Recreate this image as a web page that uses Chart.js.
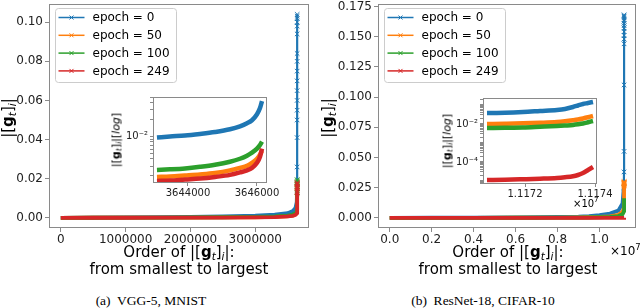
<!DOCTYPE html>
<html><head><meta charset="utf-8">
<script src="https://cdn.jsdelivr.net/npm/chart.js@4.4.1/dist/chart.umd.min.js"></script>
<style>
html,body{margin:0;padding:0;background:#fff;}
#fig{position:relative;width:640px;height:308px;overflow:hidden;font-family:"DejaVu Sans",sans-serif;color:#000;}
canvas{position:absolute;}
.t{position:absolute;white-space:nowrap;line-height:1;}
.yt{font-size:15px;transform:translate(-50%,-50%) rotate(-90deg);}
.yti{font-size:11px;transform:translate(-50%,-50%) rotate(-90deg);}
.xt{font-size:15px;transform:translate(-50%,-50%);}
.s{font-size:0.7em;font-style:italic;position:relative;top:0.3em;}
.cap{font-family:"Liberation Serif",serif;font-size:13.5px;transform:translate(-50%,-50%);}
.off{font-size:12px;transform:translateY(-50%);}
.offi{font-size:10px;transform:translateY(-50%);}
</style></head>
<body><div id="fig">
<canvas id="mainA" width="320" height="244" style="left:0;top:0;width:320px;height:244px"></canvas>
<canvas id="mainB" width="320" height="244" style="left:320px;top:0;width:320px;height:244px"></canvas>
<canvas id="insA" width="200" height="112" style="left:95px;top:88px;width:200px;height:112px"></canvas>
<canvas id="insB" width="200" height="112" style="left:425px;top:88px;width:200px;height:112px"></canvas>

<div class="t yt" style="left:8px;top:118px">|[<b>g</b><span class="s">t</span>]<span class="s">i</span>|</div>
<div class="t yt" style="left:328px;top:118px">|[<b>g</b><span class="s">t</span>]<span class="s">i</span>|</div>
<div class="t yti" style="left:116px;top:140px">|[<b>g</b><span class="s">t</span>]<span class="s">i</span>|[<i>log</i>]</div>
<div class="t yti" style="left:447px;top:141px">|[<b>g</b><span class="s">t</span>]<span class="s">i</span>|[<i>log</i>]</div>

<div class="t xt" style="left:179px;top:252px">Order of |[<b>g</b><span class="s">t</span>]<span class="s">i</span>|:</div>
<div class="t xt" style="left:179px;top:269px">from smallest to largest</div>
<div class="t xt" style="left:508px;top:252px">Order of |[<b>g</b><span class="s">t</span>]<span class="s">i</span>|:</div>
<div class="t xt" style="left:508px;top:269px">from smallest to largest</div>

<div class="t off" style="left:610px;top:250px">×10<sup style="font-size:0.7em">7</sup></div>
<div class="t offi" style="left:573px;top:203px">×10<sup style="font-size:0.7em">7</sup></div>

<div class="t cap" style="left:151px;top:301px">(a)&nbsp; VGG-5, MNIST</div>
<div class="t cap" style="left:483px;top:301px">(b)&nbsp; ResNet-18, CIFAR-10</div>
</div>
<script>
// ---------- data ----------
const seriesNames = ['epoch = 0', 'epoch = 50', 'epoch = 100', 'epoch = 249'];
const seriesColors = ['#1f77b4', '#ff7f0e', '#2ca02c', '#d62728'];

// (a) VGG-5, MNIST : main panel
const vggOrder = [0, 500000, 1000000, 1500000, 2000000, 2500000, 3000000, 3300000, 3500000, 3580000, 3620000, 3640000, 3645000, 3646000, 3646100, 3646300, 3646400, 3646500, 3646550, 3646600, 3646650, 3646700, 3646750, 3646800, 3646850, 3646900, 3646940, 3646970, 3647000];
const vggEpoch0   = [0, 0.0001, 0.0002, 0.0003, 0.0005, 0.0007, 0.0011, 0.0016, 0.0024, 0.0035, 0.005, 0.008, 0.014, 0.026, 0.041, 0.05, 0.055, 0.06, 0.065, 0.07, 0.075, 0.08, 0.084, 0.094, 0.098, 0.1, 0.102, 0.103, 0.104];
const vggEpoch50  = [0, 0.00003, 0.00006, 0.0001, 0.00015, 0.0002, 0.0003, 0.0005, 0.0008, 0.0012, 0.0017, 0.0025, 0.0032, 0.0045, 0.0056, 0.007, 0.008, 0.009, 0.010, 0.011, 0.012, 0.013, 0.014, 0.015, 0.0155, 0.016, 0.0165, 0.017, 0.0175];
const vggEpoch100 = [0, 0.00005, 0.0001, 0.00015, 0.0002, 0.0003, 0.0005, 0.0007, 0.0011, 0.0017, 0.0024, 0.0035, 0.0046, 0.0065, 0.0082, 0.0095, 0.0105, 0.0115, 0.0125, 0.013, 0.014, 0.015, 0.016, 0.017, 0.0175, 0.018, 0.0185, 0.019, 0.0195];
const vggEpoch249 = [0, 0.00003, 0.00005, 0.00008, 0.0001, 0.00015, 0.00025, 0.0004, 0.0007, 0.001, 0.0015, 0.0021, 0.0028, 0.004, 0.0061, 0.007, 0.008, 0.009, 0.010, 0.011, 0.012, 0.013, 0.014, 0.015, 0.0155, 0.016, 0.017, 0.0175, 0.018];
const vggXTicks = [0, 1000000, 2000000, 3000000];
const vggXLabels = ['0', '1000000', '2000000', '3000000'];
const vggYTicks = [0, 0.02, 0.04, 0.06, 0.08, 0.10];
const vggYLabels = ['0.00', '0.02', '0.04', '0.06', '0.08', '0.10'];

// (a) inset (log scale)
const vggInsetOrder = [3643101, 3643478, 3643913, 3644348, 3644783, 3645217, 3645507, 3645710, 3645855, 3646000, 3646087, 3646145];
const vggInset0   = [0.0096, 0.0100, 0.0104, 0.0111, 0.0120, 0.0134, 0.0151, 0.0171, 0.0194, 0.0248, 0.0318, 0.0424];
const vggInset50  = [0.00192, 0.00196, 0.00204, 0.00213, 0.00226, 0.00251, 0.00278, 0.00302, 0.00342, 0.00403, 0.00476, 0.00561];
const vggInset100 = [0.00256, 0.00262, 0.00272, 0.00290, 0.00315, 0.00356, 0.00403, 0.00457, 0.00517, 0.00610, 0.00704, 0.00813];
const vggInset249 = [0.00163, 0.00166, 0.00173, 0.00180, 0.00192, 0.00209, 0.00231, 0.00251, 0.00278, 0.00342, 0.00438, 0.00610];
const vggInsetXTicks = [3644000, 3646000];
const vggInsetXLabels = ['3644000', '3646000'];
const vggInsetYTicks = [0.01];
const vggInsetYLabels = ['10\u207B\u00B2'];

// (b) ResNet-18, CIFAR-10 : main panel
const resOrder = [0, 2000000, 4000000, 6000000, 7000000, 8000000, 9000000, 9500000, 10000000, 10500000, 10900000, 11100000, 11160000, 11171000, 11172900, 11173650, 11173940, 11173950, 11173955, 11173960, 11173965, 11173970, 11173975, 11173980, 11173985, 11173990, 11173995, 11174000];
const resEpoch0   = [0, 0.0001, 0.0002, 0.0004, 0.0005, 0.0007, 0.0010, 0.0014, 0.0022, 0.0035, 0.006, 0.012, 0.025, 0.038, 0.055, 0.11, 0.144, 0.148, 0.151, 0.154, 0.157, 0.159, 0.161, 0.163, 0.164, 0.166, 0.167, 0.168];
const resEpoch50  = [0, 0.00003, 0.00006, 0.0001, 0.00015, 0.0002, 0.0003, 0.0005, 0.0008, 0.0013, 0.0025, 0.005, 0.008, 0.010, 0.0127, 0.020, 0.0264, 0.027, 0.0275, 0.028, 0.0283, 0.0286, 0.0288, 0.029, 0.0292, 0.0294, 0.0296, 0.030];
const resEpoch100 = [0, 0.00002, 0.00004, 0.00007, 0.0001, 0.00015, 0.0002, 0.0003, 0.0005, 0.0008, 0.0015, 0.003, 0.005, 0.0062, 0.0078, 0.0106, 0.0144, 0.0148, 0.015, 0.0152, 0.0154, 0.0156, 0.0157, 0.0158, 0.0159, 0.016, 0.0161, 0.0162];
const resEpoch249 = [0, 0.000002, 0.000003, 0.000004, 0.000005, 0.000006, 0.000007, 0.000008, 0.000009, 0.00001, 0.000011, 0.0000112, 0.0000113, 0.0000113, 0.0000145, 0.000026, 0.000054, 0.00006, 0.000065, 0.00007, 0.000075, 0.00008, 0.000085, 0.00009, 0.000095, 0.0001, 0.00011, 0.00012];
const resXTicks = [0, 2000000, 4000000, 6000000, 8000000, 10000000];
const resXLabels = ['0.0', '0.2', '0.4', '0.6', '0.8', '1.0'];
const resYTicks = [0, 0.025, 0.05, 0.075, 0.1, 0.125, 0.15, 0.175];
const resYLabels = ['0.000', '0.025', '0.050', '0.075', '0.100', '0.125', '0.150', '0.175'];

// (b) inset (log scale)
const resInsetOrder = [11170914, 11171429, 11171943, 11172429, 11172914, 11173143, 11173371, 11173514, 11173657, 11173800, 11173943];
const resInset0   = [0.0379, 0.0393, 0.0428, 0.0483, 0.0546, 0.0616, 0.0785, 0.0941, 0.113, 0.127, 0.144];
const resInset50  = [0.0100, 0.0104, 0.0109, 0.0116, 0.0127, 0.0139, 0.0157, 0.0172, 0.0195, 0.0225, 0.0264];
const resInset100 = [0.0062, 0.0063, 0.0065, 0.0071, 0.0078, 0.0083, 0.0089, 0.0096, 0.0106, 0.0123, 0.0144];
const resInset249 = [0.0000113, 0.0000117, 0.0000124, 0.0000132, 0.0000144, 0.0000157, 0.0000177, 0.0000207, 0.0000264, 0.0000379, 0.0000546];
const resInsetXTicks = [11172000, 11174000];
const resInsetXLabels = ['1.1172', '1.1174'];
const resInsetYTicks = [0.0001, 0.01];
const resInsetYLabels = ['10\u207B\u2074', '10\u207B\u00B2'];

// ---------- helpers ----------
Chart.defaults.font.family = '"DejaVu Sans", sans-serif';
Chart.defaults.color = '#222';
const SPINE = '#8a8a8a';

function pts(xs, ys) { return xs.map((x, i) => ({x: x, y: ys[i]})); }

const framePlugin = {
  id: 'frame',
  beforeDraw(chart, args, opts) {
    if (opts && opts.fill) {
      const a = chart.chartArea, c = chart.ctx;
      c.save(); c.fillStyle = '#fff';
      c.fillRect(a.left, a.top, a.right - a.left, a.bottom - a.top);
      c.restore();
    }
  },
  afterDatasetsDraw(chart) {
    const a = chart.chartArea, c = chart.ctx;
    c.save(); c.strokeStyle = SPINE; c.lineWidth = 1;
    c.strokeRect(Math.round(a.left) + 0.5, Math.round(a.top) + 0.5,
                 Math.round(a.right - a.left) - 1, Math.round(a.bottom - a.top) - 1);
    c.restore();
  }
};

const legendPlugin = {
  id: 'mplLegend',
  afterDraw(chart, args, opts) {
    if (!opts || !opts.show) return;
    const c = chart.ctx, a = chart.chartArea;
    const x0 = Math.round(a.left) + 6.5, y0 = 8.5, w = 121, h = 74, r = 3;
    c.save();
    c.beginPath();
    c.moveTo(x0 + r, y0); c.lineTo(x0 + w - r, y0); c.arcTo(x0 + w, y0, x0 + w, y0 + r, r);
    c.lineTo(x0 + w, y0 + h - r); c.arcTo(x0 + w, y0 + h, x0 + w - r, y0 + h, r);
    c.lineTo(x0 + r, y0 + h); c.arcTo(x0, y0 + h, x0, y0 + h - r, r);
    c.lineTo(x0, y0 + r); c.arcTo(x0, y0, x0 + r, y0, r); c.closePath();
    c.fillStyle = 'rgba(255,255,255,0.8)'; c.fill();
    c.strokeStyle = '#cccccc'; c.lineWidth = 1; c.stroke();
    c.font = '12px "DejaVu Sans", sans-serif';
    c.textBaseline = 'middle'; c.textAlign = 'left';
    seriesNames.forEach((name, i) => {
      const y = 17.5 + i * 17.8;
      c.strokeStyle = seriesColors[i]; c.lineWidth = 1.5;
      c.beginPath(); c.moveTo(x0 + 3, y); c.lineTo(x0 + 29, y); c.stroke();
      const mx = x0 + 16; c.lineWidth = 1;
      c.beginPath(); c.moveTo(mx - 2, y - 2); c.lineTo(mx + 2, y + 2);
      c.moveTo(mx - 2, y + 2); c.lineTo(mx + 2, y - 2); c.stroke();
      c.fillStyle = '#000';
      c.fillText(name, x0 + 37, y + 0.5);
    });
    c.restore();
  }
};

function makeChart(id, cfg) {
  const datasets = cfg.series.map((ys, i) => ({
    label: seriesNames[i],
    data: pts(cfg.order, ys),
    borderColor: seriesColors[i],
    backgroundColor: seriesColors[i],
    borderWidth: cfg.lineWidth,
    segment: cfg.markers ? {
      borderWidth: ctx => (ctx.p0.parsed.y > cfg.markerFrom ? 2.2 : cfg.lineWidth)
    } : {},
    pointStyle: 'crossRot',
    pointRadius: cfg.markers ? (ctx => (ctx.raw && ctx.raw.y > cfg.markerFrom ? 3.2 : 0)) : 0,
    pointBorderWidth: 1,
    pointBorderColor: seriesColors[i],
    pointHoverRadius: 0,
    fill: false,
    tension: 0,
    cubicInterpolationMode: cfg.smooth ? 'monotone' : 'default',
    order: 3 - i
  }));
  const tickFont = {size: cfg.fontSize, family: '"DejaVu Sans", sans-serif'};
  const grid = {display: true, drawOnChartArea: false, drawTicks: true, tickLength: cfg.tickLen,
                color: SPINE, tickColor: SPINE, lineWidth: 1};
  return new Chart(document.getElementById(id), {
    type: 'line',
    data: {datasets: datasets},
    plugins: [framePlugin, legendPlugin],
    options: {
      responsive: false, animation: false, devicePixelRatio: 1, events: [],
      layout: {padding: cfg.pad},
      plugins: {legend: {display: false}, tooltip: {enabled: false},
                frame: {fill: cfg.fillBg}, mplLegend: {show: cfg.legend}},
      scales: {
        x: {
          type: 'linear', min: cfg.xmin, max: cfg.xmax,
          grid: grid, border: {display: false},
          afterBuildTicks: s => { s.ticks = cfg.xTicks.map(v => ({value: v})); },
          afterFit: s => { s.height = cfg.xH; s.paddingLeft = 0; s.paddingRight = 0; },
          ticks: {autoSkip: false, maxRotation: 0, minRotation: 0, padding: cfg.xPad, font: tickFont, color: '#222',
                  includeBounds: false,
                  callback: (v, i) => cfg.xLabels[i]}
        },
        y: {
          type: cfg.ylog ? 'logarithmic' : 'linear', min: cfg.ymin, max: cfg.ymax,
          grid: grid, border: {display: false},
          afterBuildTicks: s => { s.ticks = cfg.yTickList.map(v => ({value: v})); },
          afterFit: s => { s.width = cfg.yW; s.paddingTop = 0; s.paddingBottom = 0; },
          ticks: {autoSkip: false, padding: cfg.yPad, font: tickFont, color: '#222',
                  callback: (v, i) => {
                    const k = cfg.yTicks.indexOf(cfg.yTickList[i]);
                    return k >= 0 ? cfg.yLabels[k] : '';
                  }}
        }
      }
    }
  });
}

function minorDecades(lo, hi) {
  const out = [];
  for (let e = lo; e <= hi; e++) for (let m = 1; m <= 9; m++) out.push(Number((m * Math.pow(10, e)).toPrecision(3)));
  return out;
}

// (a) main
makeChart('mainA', {
  order: vggOrder, series: [vggEpoch0, vggEpoch50, vggEpoch100, vggEpoch249],
  lineWidth: 3.8, markers: true, markerFrom: 0.012, fontSize: 12, tickLen: 4, fillBg: false, legend: true,
  pad: {left: 0, right: 11, top: 2, bottom: 0},
  xmin: -182350, xmax: 3829350, ymin: -0.0052, ymax: 0.1092,
  xTicks: vggXTicks, xLabels: vggXLabels, yTicks: vggYTicks, yLabels: vggYLabels, yTickList: vggYTicks,
  xH: 16, yW: 49, xPad: 1, yPad: 2
});
// (b) main
makeChart('mainB', {
  order: resOrder, series: [resEpoch0, resEpoch50, resEpoch100, resEpoch249],
  lineWidth: 3.8, markers: true, markerFrom: 0.02, fontSize: 12, tickLen: 4, fillBg: false, legend: true,
  pad: {left: 0, right: 1, top: 2, bottom: 0},
  xmin: -558700, xmax: 11732700, ymin: -0.0084, ymax: 0.1768,
  xTicks: resXTicks, xLabels: resXLabels, yTicks: resYTicks, yLabels: resYLabels, yTickList: resYTicks,
  xH: 16, yW: 58, xPad: 1, yPad: 2
});
// (a) inset
const insAMinor = minorDecades(-3, -2).filter(v => v >= 0.0015 && v <= 0.05);
makeChart('insA', {
  order: vggInsetOrder, series: [vggInset0, vggInset50, vggInset100, vggInset249],
  lineWidth: 4.5, markers: false, smooth: true, fontSize: 10, tickLen: 3, fillBg: true, legend: false,
  pad: {left: 0, right: 28, top: 9, bottom: 0}, ylog: true,
  xmin: 3642986, xmax: 3646290, ymin: 0.0015, ymax: 0.05,
  xTicks: vggInsetXTicks, xLabels: vggInsetXLabels, yTicks: vggInsetYTicks, yLabels: vggInsetYLabels,
  yTickList: insAMinor, xH: 17, yW: 58, xPad: 1, yPad: 2
});
// (b) inset
const insBMinor = minorDecades(-6, -1).filter(v => v >= 6.95e-6 && v <= 0.233);
makeChart('insB', {
  order: resInsetOrder, series: [resInset0, resInset50, resInset100, resInset249],
  lineWidth: 4.5, markers: false, smooth: true, fontSize: 10, tickLen: 3, fillBg: true, legend: false,
  pad: {left: 0, right: 28, top: 10, bottom: 0}, ylog: true,
  xmin: 11170800, xmax: 11174057, ymin: 6.95e-6, ymax: 0.233,
  xTicks: resInsetXTicks, xLabels: resInsetXLabels, yTicks: resInsetYTicks, yLabels: resInsetYLabels,
  yTickList: insBMinor, xH: 16, yW: 58, xPad: 1, yPad: 2
});
</script>
</body></html>
